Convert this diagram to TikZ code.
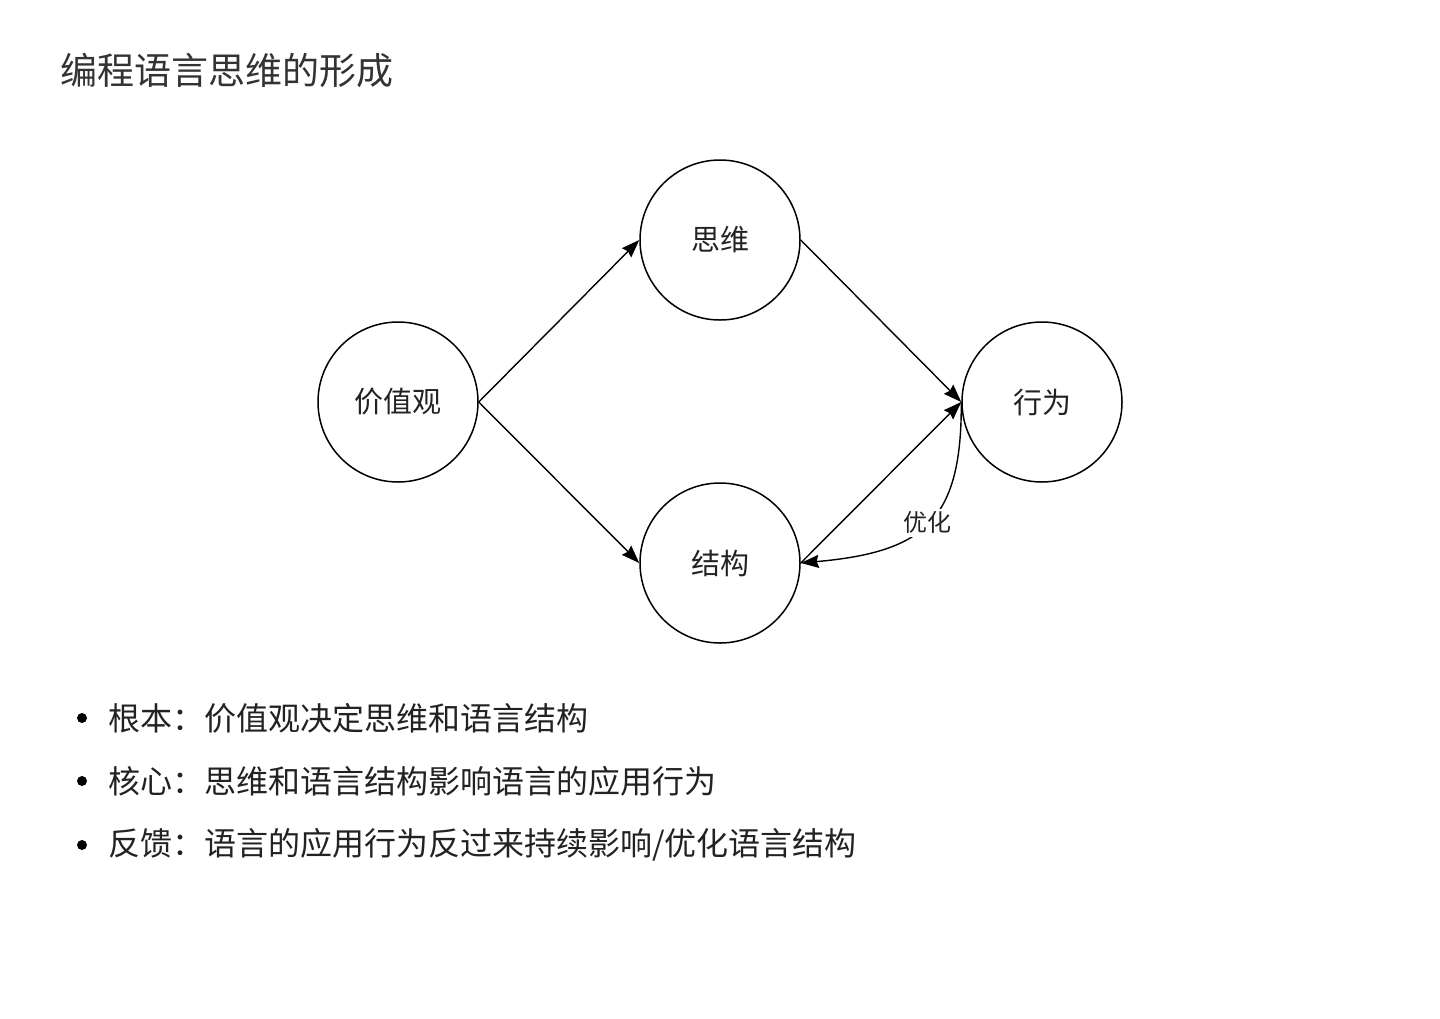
\documentclass[tikz,border=0pt]{standalone}
\usepackage{fontspec}
\setmainfont{Noto Sans CJK SC}
\usetikzlibrary{positioning, arrows.meta}
\definecolor{inkgray}{RGB}{51,51,51}
\definecolor{textdark}{RGB}{34,34,34}

\begin{document}
\begin{tikzpicture}[>={Stealth[length=9pt, width=6.5pt, inset=1pt]}, x=0.5pt, y=-0.5pt,
    idea/.style={circle, draw, line width=0.75pt, minimum size=80pt, inner sep=0pt,
        text=textdark, font=\fontsize{14.5}{17}\selectfont},
    link/.style={->, line width=0.7pt},
    dotitem/.style={circle, fill=black, inner sep=0pt, minimum size=5pt},
    itemtext/.style={anchor=west, inner sep=0pt, text=textdark, font=\fontsize{16}{19}\selectfont}]
\useasboundingbox (0,0) rectangle (1440,1018);
% title
\node[anchor=west, inner sep=0pt, text=inkgray, font=\fontsize{18.5}{22}\selectfont] (title) at (60,70) {编程语言思维的形成};
% circles
\node[idea] (val) at (398,402) {价值观};
\node[idea] (think) at (720,240) {思维};
\node[idea] (struct) at (720,563) {结构};
\node[idea] (act) at (1042,402) {行为};
% connectors
\draw[link] (val.east) -- (think.west);
\draw[link] (val.east) -- (struct.west);
\draw[link] (think.east) -- (act.west);
\draw[link] (struct.east) -- (act.west);
\draw[link] (act.west) .. controls (962,520) and (925,552) .. node[pos=0.5, fill=white, inner sep=1.5pt, text=textdark, font=\fontsize{12}{14}\selectfont] (opt) {优化} (struct.east);
% bullet list
\node[dotitem] (b1) at (82,718) {};
\node[itemtext] (t1) at (108,718) {根本：价值观决定思维和语言结构};
\node[dotitem] (b2) at (82,781) {};
\node[itemtext] (t2) at (108,781) {核心：思维和语言结构影响语言的应用行为};
\node[dotitem] (b3) at (82,845) {};
\node[itemtext] (t3) at (108,845) {反馈：语言的应用行为反过来持续影响/优化语言结构};
\end{tikzpicture}
\end{document}
